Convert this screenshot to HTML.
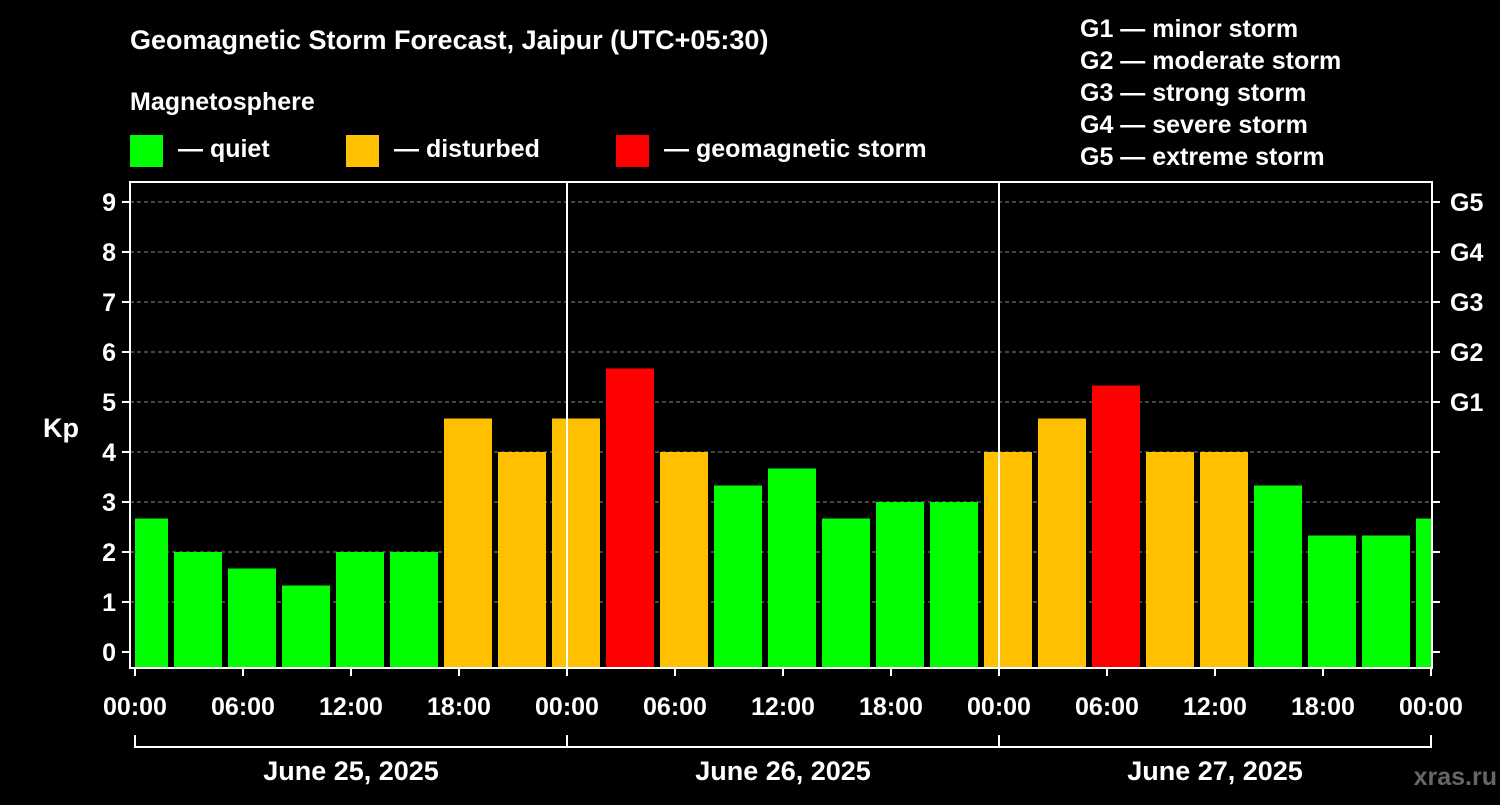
<!DOCTYPE html>
<html><head><meta charset="utf-8"><style>
body{margin:0;background:#000;width:1500px;height:800px;overflow:hidden}
svg text{font-family:"Liberation Sans",sans-serif;font-weight:bold;fill:#fff}
</style></head><body>
<svg id="c" width="1500" height="800">
<text x="130" y="49" font-size="27">Geomagnetic Storm Forecast, Jaipur (UTC+05:30)</text>
<text x="130" y="110" font-size="25">Magnetosphere</text>
<rect x="130" y="135" width="33" height="32" fill="#00ff00"/>
<text x="178" y="157" font-size="25">— quiet</text>
<rect x="346" y="135" width="33" height="32" fill="#ffc000"/>
<text x="394" y="157" font-size="25">— disturbed</text>
<rect x="616" y="135" width="33" height="32" fill="#ff0000"/>
<text x="664" y="157" font-size="25">— geomagnetic storm</text>
<g font-size="25">
<text x="1080" y="37">G1 — minor storm</text>
<text x="1080" y="69">G2 — moderate storm</text>
<text x="1080" y="101">G3 — strong storm</text>
<text x="1080" y="133">G4 — severe storm</text>
<text x="1080" y="165">G5 — extreme storm</text>
</g>
<g id="grid"></g><g id="bars"></g><g id="axes"></g>
<text x="43" y="437" font-size="27">Kp</text>
<text x="1497" y="785" font-size="25" text-anchor="end" fill="#555" style="fill:#666">xras.ru</text>
</svg>
<script>
const kpValues=[2.67,2,1.67,1.33,2,2,4.67,4,4.67,5.67,4,3.33,3.67,2.67,3,3,4,4.67,5.33,4,4,3.33,2.33,2.33,2.67];
const yTicks=[0,1,2,3,4,5,6,7,8,9];
const gLabels=["G1","G2","G3","G4","G5"];
const gLevels=[5,6,7,8,9];
const xTickLabels=["00:00","06:00","12:00","18:00","00:00","06:00","12:00","18:00","00:00","06:00","12:00","18:00","00:00"];
const dayLabels=["June 25, 2025","June 26, 2025","June 27, 2025"];
const NS="http://www.w3.org/2000/svg";
const L=130,R=1432,T=182,B=668,X0=135,X1=1431;
const y=v=>652-50*v;
const x=h=>X0+(X1-X0)*h/72;
function mk(p,tag,a){const e=document.createElementNS(NS,tag);for(const k in a)e.setAttribute(k,a[k]);document.getElementById(p).appendChild(e);return e;}
yTicks.forEach(v=>{if(v>0){const g=mk('grid','line',{x1:L,x2:R,y1:y(v),y2:y(v),stroke:'#888','stroke-dasharray':'4,3','stroke-width':1});

}});
kpValues.forEach((v,i)=>{const c=3*i+0.5;let x1=x(c)-24,x2=x(c)+24;x1=Math.max(x1,X0);x2=Math.min(x2,X1);
const col=v>=5?'#ff0000':v>=4?'#ffc000':'#00ff00';
const r=mk('bars','rect',{x:x1,y:y(v),width:x2-x1,height:B-y(v),fill:col});

});
mk('axes','rect',{x:L,y:T,width:R-L,height:B-T,fill:'none',stroke:'#fff','stroke-width':2});
[24,48].forEach(h=>{mk('axes','line',{x1:x(h),x2:x(h),y1:T,y2:B,stroke:'#fff','stroke-width':2});});
yTicks.forEach(v=>{mk('axes','line',{x1:L-8,x2:L,y1:y(v),y2:y(v),stroke:'#fff','stroke-width':2});
mk('axes','line',{x1:R,x2:R+8,y1:y(v),y2:y(v),stroke:'#fff','stroke-width':2});
const t=mk('axes','text',{x:116,y:y(v)+9,'font-size':25,'text-anchor':'end'});t.textContent=v;

});
gLabels.forEach((g,i)=>{const t=mk('axes','text',{x:1450,y:y(gLevels[i])+9,'font-size':25});t.textContent=g;

});
xTickLabels.forEach((s,i)=>{const xx=x(6*i);mk('axes','line',{x1:xx,x2:xx,y1:B,y2:B+8,stroke:'#fff','stroke-width':2});
const t=mk('axes','text',{x:xx,y:715,'font-size':25,'text-anchor':'middle'});t.textContent=s;

});
mk('axes','line',{x1:X0,x2:X1,y1:747,y2:747,stroke:'#fff','stroke-width':2});
[0,24,48,72].forEach(h=>mk('axes','line',{x1:x(h),x2:x(h),y1:735,y2:748,stroke:'#fff','stroke-width':2}));
dayLabels.forEach((s,i)=>{const t=mk('axes','text',{x:x(24*i+12),y:780,'font-size':27,'text-anchor':'middle'});t.textContent=s;

});
</script>
</body></html>
